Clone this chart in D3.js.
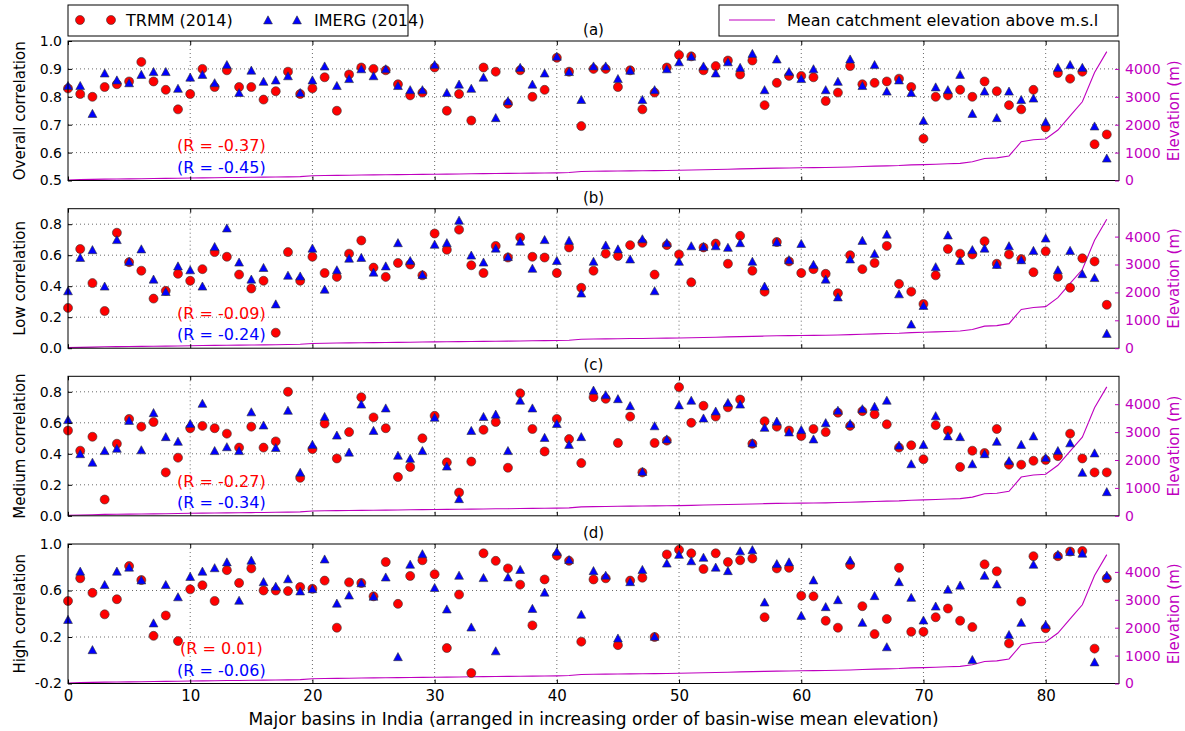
<!DOCTYPE html>
<html>
<head>
<meta charset="utf-8">
<script src="https://cdn.jsdelivr.net/npm/d3@7/dist/d3.min.js"></script>
<style>
	body { margin: 0; background: #fff; }
	svg { font-family: "DejaVu Sans", sans-serif; }
</style>
</head>
<body>
<div id="chart-area"></div>
<script>
// basin-wise correlations (86 basins, sorted by mean elevation)
const trmmOverall = [0.83,0.81,0.80,0.835,0.845,0.855,0.925,0.855,0.825,0.755,0.81,0.90,0.835,0.895,0.835,0.835,0.79,0.82,0.89,0.81,
	0.83,0.87,0.75,0.88,0.905,0.90,0.895,0.845,0.805,0.815,0.905,0.75,0.81,0.715,0.905,0.89,0.775,0.895,0.80,0.825,
	0.94,0.89,0.695,0.90,0.90,0.835,0.895,0.755,0.815,0.905,0.95,0.945,0.895,0.91,0.93,0.88,0.93,0.77,0.85,0.875,
	0.875,0.87,0.785,0.815,0.91,0.845,0.85,0.855,0.865,0.835,0.65,0.80,0.805,0.825,0.80,0.855,0.82,0.77,0.755,0.825,
	0.69,0.885,0.865,0.89,0.63,0.665];
const imergOverall = [0.84,0.84,0.74,0.885,0.86,0.85,0.88,0.89,0.89,0.83,0.87,0.88,0.85,0.915,0.815,0.895,0.855,0.86,0.875,0.815,
	0.86,0.91,0.84,0.865,0.90,0.875,0.90,0.84,0.825,0.825,0.915,0.815,0.845,0.83,0.87,0.725,0.785,0.905,0.845,0.885,
	0.945,0.89,0.79,0.91,0.91,0.865,0.895,0.79,0.825,0.90,0.925,0.945,0.91,0.885,0.925,0.905,0.955,0.825,0.935,0.89,
	0.865,0.90,0.825,0.855,0.935,0.84,0.915,0.82,0.86,0.815,0.715,0.835,0.825,0.88,0.74,0.82,0.725,0.82,0.79,0.795,
	0.71,0.905,0.915,0.905,0.695,0.58];

const trmmLow = [0.26,0.64,0.42,0.24,0.745,0.555,0.50,0.32,0.37,0.48,0.435,0.51,0.62,0.59,0.475,0.385,0.435,0.10,0.62,0.435,
	0.59,0.485,0.46,0.61,0.695,0.52,0.46,0.55,0.54,0.47,0.74,0.635,0.765,0.535,0.485,0.66,0.585,0.715,0.59,0.585,
	0.485,0.65,0.39,0.50,0.61,0.595,0.665,0.68,0.475,0.665,0.605,0.425,0.65,0.675,0.545,0.725,0.50,0.365,0.685,0.56,
	0.485,0.51,0.48,0.355,0.60,0.51,0.55,0.66,0.415,0.365,0.285,0.47,0.64,0.61,0.605,0.69,0.545,0.605,0.575,0.49,
	0.625,0.46,0.39,0.58,0.56,0.28];
const imergLow = [0.37,0.585,0.635,0.40,0.70,0.56,0.64,0.445,0.365,0.53,0.505,0.40,0.655,0.775,0.555,0.445,0.52,0.285,0.47,0.465,
	0.645,0.38,0.505,0.58,0.585,0.49,0.53,0.68,0.565,0.475,0.67,0.68,0.825,0.60,0.555,0.645,0.59,0.69,0.515,0.70,
	0.565,0.695,0.355,0.56,0.665,0.64,0.575,0.705,0.37,0.68,0.56,0.66,0.655,0.66,0.65,0.68,0.56,0.40,0.685,0.57,
	0.675,0.54,0.445,0.33,0.575,0.695,0.61,0.735,0.35,0.155,0.275,0.525,0.73,0.565,0.635,0.645,0.54,0.66,0.57,0.63,
	0.71,0.505,0.63,0.48,0.455,0.095];

const trmmMedium = [0.55,0.42,0.51,0.105,0.465,0.625,0.575,0.605,0.28,0.375,0.565,0.58,0.565,0.53,0.44,0.575,0.44,0.48,0.80,0.245,
	0.43,0.595,0.37,0.54,0.765,0.635,0.565,0.25,0.315,0.50,0.645,0.345,0.15,0.35,0.555,0.605,0.31,0.79,0.56,0.415,
	0.625,0.495,0.34,0.765,0.755,0.47,0.64,0.28,0.47,0.485,0.83,0.60,0.71,0.64,0.70,0.75,0.465,0.61,0.575,0.55,
	0.515,0.56,0.54,0.665,0.58,0.675,0.655,0.59,0.44,0.455,0.365,0.585,0.55,0.315,0.42,0.405,0.56,0.33,0.33,0.355,
	0.36,0.385,0.53,0.37,0.28,0.28];
const imergMedium = [0.62,0.40,0.345,0.42,0.435,0.615,0.425,0.665,0.51,0.48,0.595,0.725,0.42,0.445,0.42,0.67,0.585,0.44,0.68,0.28,
	0.46,0.64,0.52,0.41,0.72,0.55,0.695,0.39,0.37,0.42,0.635,0.32,0.11,0.55,0.64,0.655,0.42,0.745,0.695,0.505,
	0.595,0.46,0.51,0.81,0.78,0.755,0.71,0.285,0.58,0.495,0.715,0.745,0.63,0.675,0.73,0.72,0.47,0.57,0.61,0.54,
	0.555,0.495,0.60,0.68,0.595,0.69,0.705,0.745,0.455,0.335,0.46,0.645,0.515,0.51,0.335,0.40,0.48,0.355,0.46,0.515,
	0.375,0.42,0.47,0.28,0.405,0.155];

const trmmHigh = [0.51,0.705,0.58,0.395,0.525,0.81,0.69,0.21,0.385,0.165,0.61,0.645,0.51,0.775,0.665,0.79,0.60,0.60,0.595,0.63,
	0.615,0.685,0.28,0.67,0.665,0.55,0.845,0.485,0.725,0.86,0.74,0.105,0.565,-0.11,0.92,0.855,0.79,0.65,0.30,0.695,
	0.90,0.855,0.16,0.695,0.705,0.13,0.685,0.71,0.20,0.91,0.95,0.92,0.785,0.92,0.845,0.86,0.875,0.37,0.79,0.795,
	0.555,0.55,0.34,0.28,0.82,0.465,0.225,0.355,0.795,0.245,0.245,0.37,0.445,0.34,0.285,0.825,0.765,0.145,0.505,0.895,
	0.275,0.895,0.935,0.94,0.10,0.705];
const imergHigh = [0.35,0.765,0.09,0.65,0.765,0.80,0.69,0.32,0.65,0.545,0.72,0.765,0.795,0.845,0.515,0.86,0.675,0.635,0.70,0.595,
	0.615,0.87,0.49,0.56,0.665,0.55,0.715,0.03,0.825,0.915,0.625,0.44,0.73,0.285,0.71,0.08,0.715,0.78,0.445,0.585,
	0.935,0.865,0.395,0.77,0.73,0.19,0.675,0.78,0.205,0.835,0.91,0.855,0.885,0.80,0.77,0.94,0.95,0.50,0.83,0.845,
	0.385,0.69,0.46,0.52,0.86,0.325,0.555,0.115,0.675,0.54,0.345,0.465,0.61,0.645,0.005,0.73,0.655,0.22,0.325,0.825,
	0.305,0.91,0.935,0.92,-0.015,0.73];

// mean catchment elevation (m)
const elevation = [20,30,40,50,55,60,65,70,75,80,90,95,100,105,110,115,120,125,130,140,
	170,180,185,190,195,200,205,210,215,220,225,230,235,240,245,250,255,260,265,270,
	275,285,320,330,335,340,345,350,355,360,365,375,385,395,405,415,425,435,445,450,
	455,460,465,475,485,500,515,525,535,560,570,585,600,615,670,790,810,880,1390,1460,
	1490,1810,2320,2820,3870,4620];

const panelNames = ["(a)", "(b)", "(c)", "(d)"];
const yLabels = ["Overall correlation", "Low correlation", "Medium correlation", "High correlation"];
const rTrmm = [-0.37, -0.09, -0.27, 0.01];
const rImerg = [-0.45, -0.24, -0.34, -0.06];
const yDomains = [[0.5, 1.0], [0, 0.9], [0, 0.9], [-0.2, 1.0]];
const yTicks = [[0.5, 0.6, 0.7, 0.8, 0.9, 1.0], [0.0, 0.2, 0.4, 0.6, 0.8], [0.0, 0.2, 0.4, 0.6, 0.8], [-0.2, 0.2, 0.6, 1.0]];
const xTicks = [0, 10, 20, 30, 40, 50, 60, 70, 80];
const elevTicks = [0, 1000, 2000, 3000, 4000];

const seriesTrmm = [trmmOverall, trmmLow, trmmMedium, trmmHigh];
const seriesImerg = [imergOverall, imergLow, imergMedium, imergHigh];

const magenta = "#bf00bf";

// plain hyphen for negatives, like the original
const loc = d3.formatLocale({decimal: ".", thousands: ",", grouping: [3], currency: ["", ""], minus: "-"});
const f1 = loc.format(".1f"), f2 = loc.format(".2f");

let svg = d3.select("#chart-area").append("svg")
	.attr("width", 1185)
	.attr("height", 731);

const left = 68, right = 1119, panelH = 139.5;
const panelTops = [41, 208.7, 376.3, 544];

let x = d3.scaleLinear().domain([0, 86]).range([left, right]);

const triPath = "M0,-4.2 L4.4,3.9 L-4.4,3.9 Z";

panelTops.forEach((top, k) => {
	let bottom = top + panelH;
	let y = d3.scaleLinear().domain(yDomains[k]).range([bottom, top]);
	let yElev = d3.scaleLinear().domain([0, 5000]).range([bottom, top]);

	let g = svg.append("g").attr("class", "panel");

	// grid
	g.selectAll(".xgrid").data(xTicks.slice(1))
		.enter().append("line")
		.attr("x1", d => x(d)).attr("x2", d => x(d))
		.attr("y1", top).attr("y2", bottom)
		.attr("stroke", "#444").attr("stroke-width", 0.8)
		.attr("stroke-dasharray", "1,3");
	g.selectAll(".ygrid").data(yTicks[k].filter(d => d > yDomains[k][0] && d < yDomains[k][1]))
		.enter().append("line")
		.attr("x1", left).attr("x2", right)
		.attr("y1", d => y(d)).attr("y2", d => y(d))
		.attr("stroke", "#444").attr("stroke-width", 0.8)
		.attr("stroke-dasharray", "1,3");

	// elevation line
	let line = d3.line()
		.x((d, i) => x(i))
		.y(d => yElev(d));
	g.append("path")
		.datum(elevation)
		.attr("fill", "none")
		.attr("stroke", magenta)
		.attr("stroke-width", 1.1)
		.attr("d", line);

	// TRMM circles
	g.selectAll(".trmm").data(seriesTrmm[k])
		.enter().append("circle")
		.attr("cx", (d, i) => x(i))
		.attr("cy", d => y(d))
		.attr("r", 4.5)
		.attr("fill", "#ff0000")
		.attr("stroke", "#333")
		.attr("stroke-width", 0.6);

	// IMERG triangles
	g.selectAll(".imerg").data(seriesImerg[k])
		.enter().append("path")
		.attr("d", triPath)
		.attr("transform", (d, i) => "translate(" + x(i) + "," + y(d) + ")")
		.attr("fill", "#0000ff")
		.attr("stroke", "#333")
		.attr("stroke-width", 0.6);

	// frame
	g.append("rect")
		.attr("x", left).attr("y", top)
		.attr("width", right - left).attr("height", panelH)
		.attr("fill", "none").attr("stroke", "#000").attr("stroke-width", 1);

	// axes (ticks pointing inward)
	let xAxisB = d3.axisBottom(x).tickValues(xTicks).tickSize(-4).tickPadding(7)
		.tickFormat(k === 3 ? d3.format("d") : () => "");
	let xAxisT = d3.axisTop(x).tickValues(xTicks).tickSize(-4).tickFormat(() => "");
	let yAxis = d3.axisLeft(y).tickValues(yTicks[k]).tickSize(-4).tickPadding(6).tickFormat(f1);
	let eAxis = d3.axisRight(yElev).tickValues(elevTicks).tickSize(-4).tickPadding(6).tickFormat(d3.format("d"));

	let gx = g.append("g").attr("transform", "translate(0," + bottom + ")").call(xAxisB);
	let gt = g.append("g").attr("transform", "translate(0," + top + ")").call(xAxisT);
	let gy = g.append("g").attr("transform", "translate(" + left + ",0)").call(yAxis);
	let ge = g.append("g").attr("transform", "translate(" + right + ",0)").call(eAxis);

	[gx, gt, gy, ge].forEach(a => {
		a.select(".domain").remove();
		a.selectAll("text").style("font-family", "DejaVu Sans").style("font-size", "14px");
	});
	gx.selectAll("text").style("font-size", "15px");
	ge.selectAll("line").attr("stroke", magenta);
	ge.selectAll("text").attr("fill", magenta);

	// panel label
	g.append("text")
		.attr("x", (left + right) / 2).attr("y", top - 6)
		.attr("text-anchor", "middle")
		.style("font-size", "15px")
		.text(panelNames[k]);

	// y labels
	g.append("text")
		.attr("transform", "translate(25," + (top + panelH / 2) + ") rotate(-90)")
		.attr("text-anchor", "middle")
		.style("font-size", "15px")
		.text(yLabels[k]);
	g.append("text")
		.attr("transform", "translate(1179," + (top + panelH / 2) + ") rotate(-90)")
		.attr("text-anchor", "middle")
		.attr("fill", magenta)
		.style("font-size", "15px")
		.text("Elevation (m)");

	// correlation with elevation
	g.append("text")
		.attr("x", x(12.55)).attr("y", top + 0.748 * panelH + 6)
		.attr("text-anchor", "middle")
		.attr("fill", "#ff0000")
		.style("font-size", "16px")
		.text("(R = " + f2(rTrmm[k]) + ")");
	g.append("text")
		.attr("x", x(12.55)).attr("y", top + 0.9 * panelH + 6)
		.attr("text-anchor", "middle")
		.attr("fill", "#0000ff")
		.style("font-size", "16px")
		.text("(R = " + f2(rImerg[k]) + ")");
});

// x axis label
svg.append("text")
	.attr("x", (left + right) / 2).attr("y", 725)
	.attr("text-anchor", "middle")
	.style("font-size", "17px")
	.text("Major basins in India (arranged in increasing order of basin-wise mean elevation)");

// legends
let leg1 = svg.append("g");
leg1.append("rect").attr("x", 68).attr("y", 5).attr("width", 340).attr("height", 31)
	.attr("fill", "#fff").attr("stroke", "#000").attr("stroke-width", 1);
[80, 111].forEach(cx => {
	leg1.append("circle").attr("cx", cx).attr("cy", 20).attr("r", 4.5)
		.attr("fill", "#ff0000").attr("stroke", "#333").attr("stroke-width", 0.6);
});
leg1.append("text").attr("x", 126).attr("y", 26).style("font-size", "16px").text("TRMM (2014)");
[268, 297].forEach(cx => {
	leg1.append("path").attr("d", triPath).attr("transform", "translate(" + cx + ",20)")
		.attr("fill", "#0000ff").attr("stroke", "#333").attr("stroke-width", 0.6);
});
leg1.append("text").attr("x", 314).attr("y", 26).style("font-size", "16px").text("IMERG (2014)");

let leg2 = svg.append("g");
leg2.append("rect").attr("x", 719).attr("y", 5).attr("width", 399).attr("height", 31)
	.attr("fill", "#fff").attr("stroke", "#000").attr("stroke-width", 1);
leg2.append("line").attr("x1", 729).attr("x2", 775).attr("y1", 20).attr("y2", 20)
	.attr("stroke", magenta).attr("stroke-width", 1.1);
leg2.append("text").attr("x", 787).attr("y", 26).style("font-size", "16px").text("Mean catchment elevation above m.s.l");
</script>
</body>
</html>
